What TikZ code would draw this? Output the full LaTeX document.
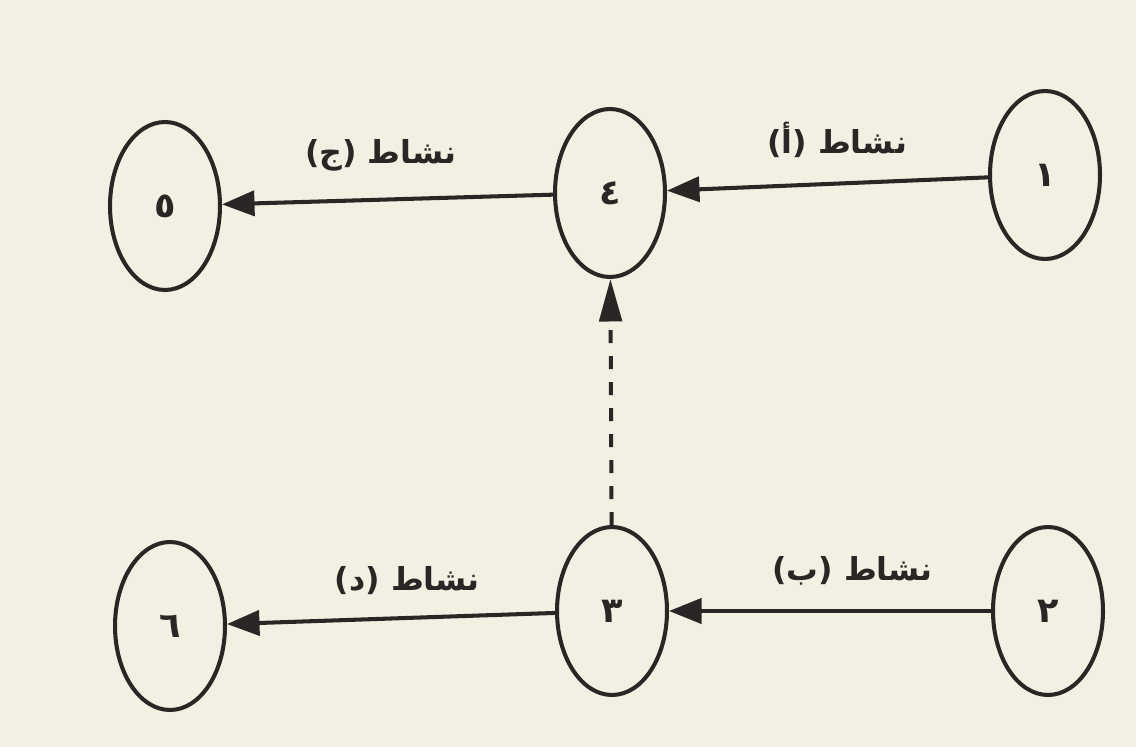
\documentclass[tikz,border=0pt]{standalone}
\usepackage{fontspec}
\usepackage{xcolor}
\usetikzlibrary{arrows.meta, positioning, shapes.geometric}
\newfontfamily\arabicfont[Script=Arabic]{DejaVu Sans}
\TeXXeTstate=1
\definecolor{Paper}{HTML}{F3EFE3}
\definecolor{Ink}{HTML}{2A2625}

\begin{document}
\begin{tikzpicture}[
    x=0.02cm, y=-0.02cm,
    event_node/.style={
        ellipse,
        draw=Ink,
        line width=2.3pt,
        minimum width=2.2cm,
        minimum height=3.36cm,
        inner sep=0pt,
        text=Ink,
        font=\arabicfont\bfseries\fontsize{20}{22}\selectfont
    },
    act_label/.style={
        inner sep=1pt,
        text=Ink,
        font=\arabicfont\bfseries\fontsize{18}{20}\selectfont
    },
    arrow_line/.style={
        -{Triangle[length=0.65cm, width=0.5cm]},
        line width=2.3pt,
        draw=Ink
    },
    dummy_line/.style={
        -{Triangle[length=0.85cm, width=0.45cm]},
        line width=2.3pt,
        draw=Ink,
        dash pattern=on 0.26cm off 0.26cm
    }
]

% =========================
% PAPER
% =========================
\fill[Paper] (0,0) rectangle (1136,747);
\useasboundingbox (0,0) rectangle (1136,747);

% =========================
% EVENTS
% =========================
\node[event_node] (n1) at (1045,175) {\beginR ١\endR};
\node[event_node] (n4) at (610,193) {\beginR ٤\endR};
\node[event_node] (n5) at (165,206) {\beginR ٥\endR};
\node[event_node] (n2) at (1048,611) {\beginR ٢\endR};
\node[event_node] (n3) at (612,611) {\beginR ٣\endR};
\node[event_node] (n6) at (170,626) {\beginR ٦\endR};

% =========================
% ACTIVITIES
% =========================
\draw[arrow_line] (n1) -- (n4)
    node[pos=0.47, above=0.45cm, act_label] (act_a) {\beginR نشاط (أ)\endR};
\draw[arrow_line] (n4) -- (n5)
    node[pos=0.52, above=0.5cm, act_label] (act_c) {\beginR نشاط (ج)\endR};
\draw[arrow_line] (n2) -- (n3)
    node[pos=0.43, above=0.45cm, act_label] (act_b) {\beginR نشاط (ب)\endR};
\draw[arrow_line] (n3) -- (n6)
    node[pos=0.45, above=0.4cm, act_label] (act_d) {\beginR نشاط (د)\endR};

% dummy activity
\draw[dummy_line] (n3) -- (n4);

\end{tikzpicture}
\end{document}
